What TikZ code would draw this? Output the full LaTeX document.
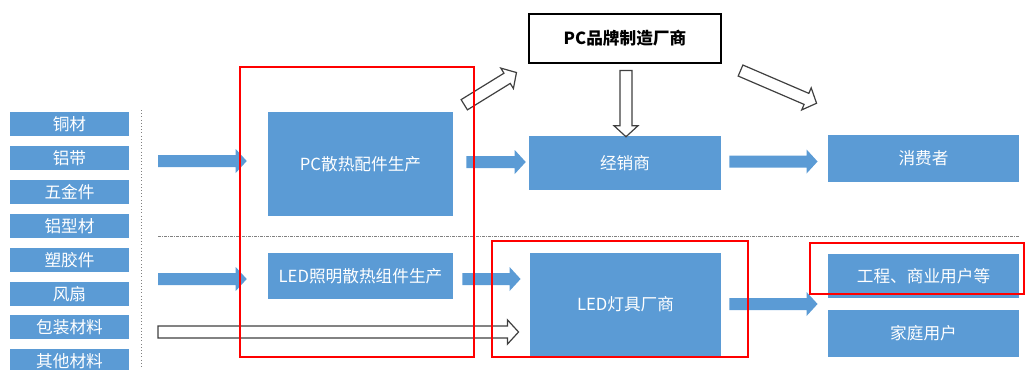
\documentclass[tikz,border=0pt]{standalone}
\usepackage{fontspec}
\setmainfont{Noto Sans CJK SC}
\usetikzlibrary{calc}
\definecolor{boxblue}{HTML}{5B9BD5}
\definecolor{framered}{HTML}{FF0000}
\definecolor{arrline}{HTML}{404040}
% block arrow from #2 (tail) to #3 (tip), style #1
\newcommand{\blockarr}[3]{%
\coordinate (arrtail) at #2;
\coordinate (arrtip) at #3;
\coordinate (arrbase) at ($(arrtip)!8.25pt!(arrtail)$);
\draw [#1] ($(arrtail)!4.5pt!90:(arrtip)$) -- ($(arrbase)!4.5pt!90:(arrtip)$) -- ($(arrbase)!9pt!90:(arrtip)$) -- (arrtip) -- ($(arrbase)!9pt!-90:(arrtip)$) -- ($(arrbase)!4.5pt!-90:(arrtip)$) -- ($(arrtail)!4.5pt!-90:(arrtip)$) -- cycle;}

\begin{document}
\begin{tikzpicture}[x=0.75pt,y=0.75pt]
\tikzstyle{every node}+=[inner sep=0pt, font=\fontsize{12.5}{15}\selectfont]
\tikzstyle{bluebox}=[fill=boxblue, text=white, minimum width=143.5pt]
\tikzstyle{matbox}=[fill=boxblue, text=white, minimum width=89.25pt, minimum height=18pt]
\tikzstyle{bluearr}=[fill=boxblue, draw=none]
\tikzstyle{hollowarr}=[fill=white, draw=arrline, line width=0.9pt, line join=miter]
\tikzstyle{redframe}=[draw=framered, line width=2pt]
\clip (0,0) rectangle (1026,-369);
% raw materials
\node [matbox] (copper) at (69.5,-124) {铜材};
\node [matbox] (alstrip) at (69.5,-158) {铝带};
\node [matbox] (hardware) at (69.5,-192) {五金件};
\node [matbox] (alprofile) at (69.5,-226) {铝型材};
\node [matbox] (plastic) at (69.5,-260) {塑胶件};
\node [matbox] (fan) at (69.5,-294) {风扇};
\node [matbox] (packing) at (69.5,-327) {包装材料};
\node [matbox] (other) at (69.5,-361) {其他材料};
\draw [gray, dotted] (141,-110) -- (141,-369);
\draw [gray, dash pattern=on 2pt off 1pt on 0.5pt off 1pt] (158,-236) -- (1020,-236);
% production
\node [bluebox, minimum width=138.75pt, minimum height=78pt] (pcpart) at (360.5,-164) {PC散热配件生产};
\node [bluebox, minimum width=138.75pt, minimum height=34.5pt] (ledpart) at (360.5,-276) {LED照明散热组件生产};
% makers and sellers
\node [draw=black, line width=0.8pt, fill=white, minimum width=144pt, minimum height=36.75pt, font=\fontsize{12.5}{15}\selectfont\bfseries] (brand) at (625,-38.5) {PC品牌制造厂商};
\node [bluebox, minimum width=144pt, minimum height=40.5pt] (dealer) at (625,-163) {经销商};
\node [bluebox, minimum height=77.25pt] (ledmaker) at (625.5,-304.5) {LED灯具厂商};
% users
\node [bluebox, minimum height=35.25pt] (consumer) at (923.5,-158) {消费者};
\node [bluebox, minimum height=33pt] (project) at (923.5,-276) {工程、商业用户等};
\node [bluebox, minimum height=35.25pt] (home) at (923.5,-333.5) {家庭用户};
\coordinate (mat1) at (158,-161);
\coordinate (mat2) at (158,-279);
\coordinate (mat3) at (158,-332);
% arrows
\blockarr{bluearr}{(mat1)}{($(pcpart.west)+(-21,3)$)}
\blockarr{bluearr}{(mat2)}{($(ledpart.west)+(-21,-3)$)}
\blockarr{bluearr}{($(pcpart.east)+(13,2)$)}{($(dealer.west)+(-3,1)$)}
\blockarr{bluearr}{($(dealer.east)+(8,1.5)$)}{($(consumer.west)+(-10,-3.5)$)}
\blockarr{bluearr}{($(ledpart.east)+(9,-3)$)}{($(ledmaker.west)+(-9,25.5)$)}
\blockarr{bluearr}{($(ledmaker.east)+(8,0.5)$)}{($(project.south west)!0.5!(home.north west)+(-10,0)$)}
\blockarr{hollowarr}{(mat3)}{($(ledmaker.west)+(-11,-27.5)$)}
\blockarr{hollowarr}{($(pcpart.north east)+(11,7)$)}{($(brand.south west)+(-12,-9)$)}
\blockarr{hollowarr}{($(brand.south)+(1,-7)$)}{($(dealer.north)+(1,-1)$)}
\blockarr{hollowarr}{($(brand.south east)+(19,-7)$)}{($(consumer.north west)+(-11,31)$)}
% highlight frames
\draw [redframe] (240,-67) rectangle (474,-357);
\draw [redframe] (492,-241) rectangle (748,-357);
\draw [redframe] (810,-243) rectangle (1024,-294);
\end{tikzpicture}
\end{document}
